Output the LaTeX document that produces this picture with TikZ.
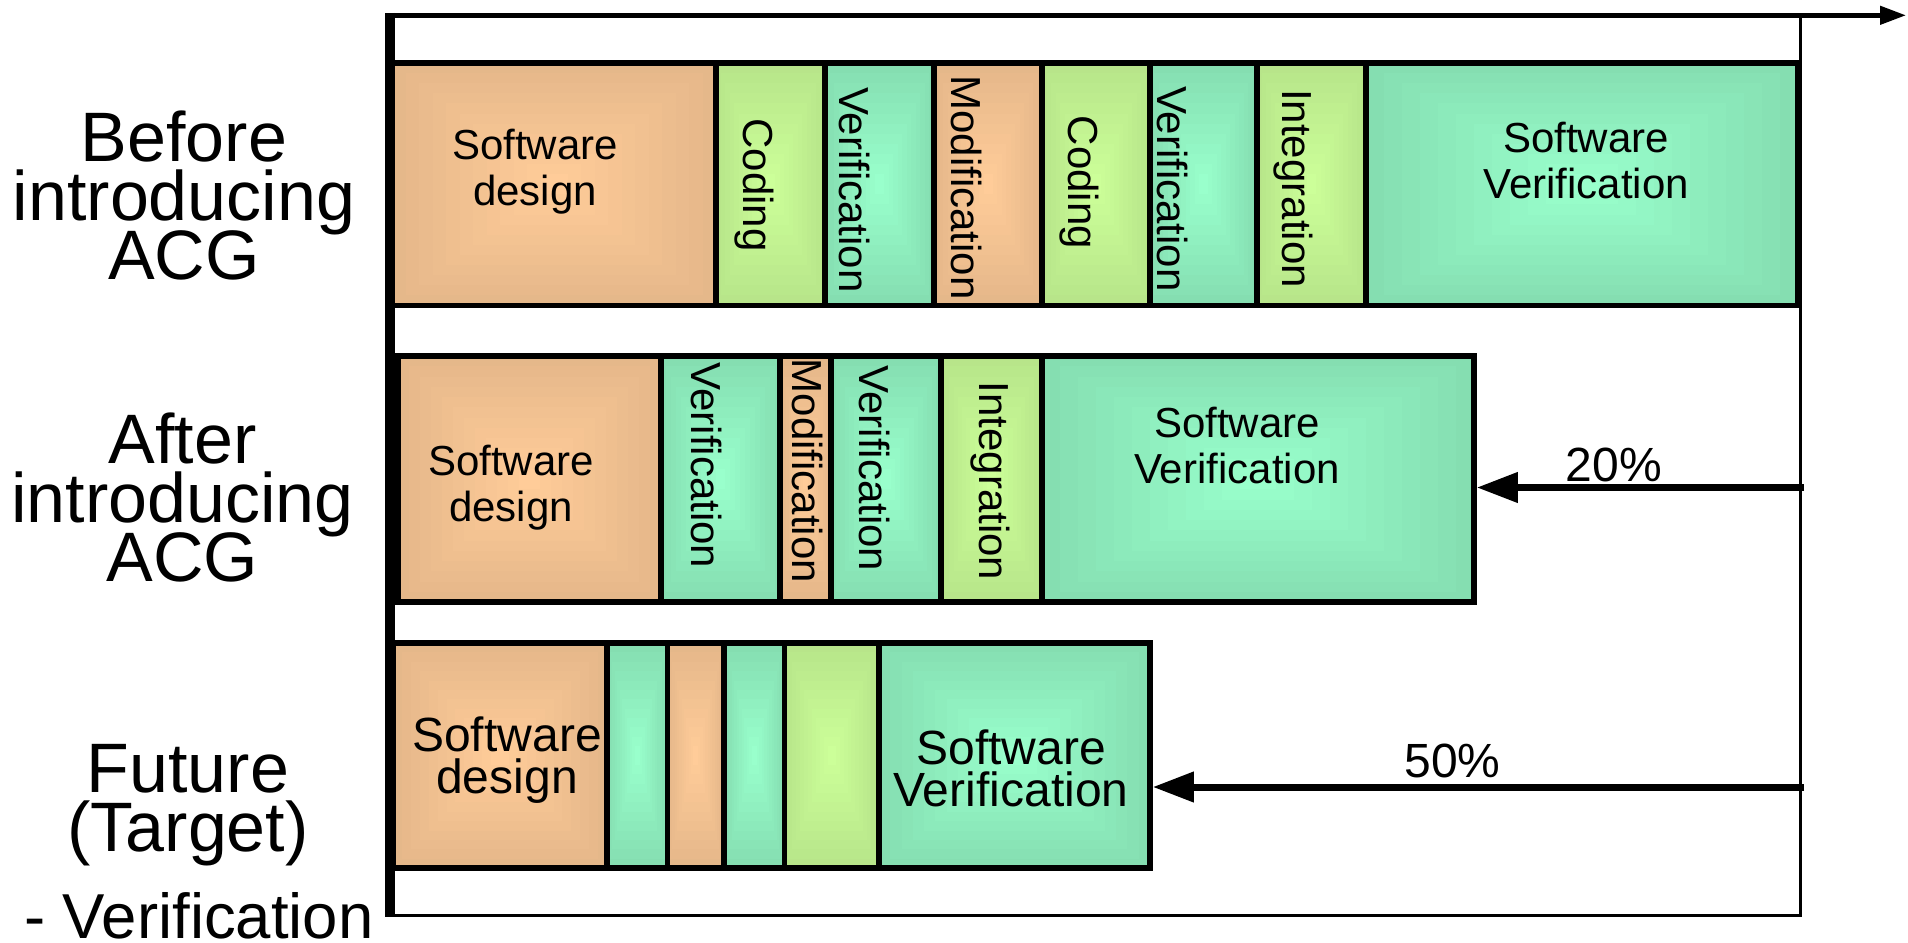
\documentclass[tikz,border=0pt]{standalone}
\usepackage{fontspec}
\setmainfont{Liberation Sans}
\usetikzlibrary{arrows.meta,calc,fit}
\definecolor{orIn}{HTML}{FFCC99}
\definecolor{grIn}{HTML}{CCFF99}
\definecolor{tlIn}{HTML}{99FFCC}
\colorlet{orOut}{orIn!90!black}
\colorlet{grOut}{grIn!90!black}
\colorlet{tlOut}{tlIn!87!black}
\lineskiplimit=-1000pt
\tikzset{
  seg/.style 2 args={draw=black, line width=5.5pt, inner sep=0pt,
    path picture={
      \foreach \k in {0,...,11}{
        \pgfmathtruncatemacro{\pc}{100*\k/11}
        \pgfmathsetmacro{\fr}{0.5*\k/12}
        \fill[#1!\pc!#2] ($(path picture bounding box.south west)!\fr!(path picture bounding box.north east)$) rectangle ($(path picture bounding box.north east)!\fr!(path picture bounding box.south west)$);
      }}},
  orseg/.style={seg={orIn}{orOut}},
  grseg/.style={seg={grIn}{grOut}},
  tlseg/.style={seg={tlIn}{tlOut}},
  lab/.style={font={\fontsize{70}{59}\selectfont\lineskiplimit=-1000pt}, align=center, inner sep=0pt},
  bt/.style={font={\fontsize{42}{46}\selectfont\lineskiplimit=-1000pt}, align=center, inner sep=0pt},
  btb/.style={font={\fontsize{48}{42}\selectfont\lineskiplimit=-1000pt}, align=center, inner sep=0pt},
  vt/.style={font=\fontsize{42}{46}\selectfont, rotate=-90, inner sep=0pt},
  pct/.style={font=\fontsize{48}{56}\selectfont, inner sep=0pt, anchor=base},
  thinln/.style={line width=2.5pt},
  pctarrow/.style={line width=7pt, -{Triangle[length=41pt,width=29pt]}},
}
\begin{document}
\begin{tikzpicture}[x=1pt,y=-1pt]
\useasboundingbox (0,0) rectangle (1908,942);
% frame
\coordinate (tr) at (1800.5,15);
\coordinate (br) at (1800.5,915.5);
\coordinate (bl) at (390,915.5);
\draw[thinln] (tr) -- (br) -- (bl);
% row 1
\node[orseg, fit={(392,63) (716,305.5)}] (s11) {};
\node[grseg, fit={(716,63) (825,305.5)}] (s12) {};
\node[tlseg, fit={(825,63) (934,305.5)}] (s13) {};
\node[orseg, fit={(934,63) (1042,305.5)}] (s14) {};
\node[grseg, fit={(1042,63) (1150,305.5)}] (s15) {};
\node[tlseg, fit={(1150,63) (1257,305.5)}] (s16) {};
\node[grseg, fit={(1257,63) (1366,305.5)}] (s17) {};
\node[tlseg, fit={(1366,63) (1798,305.5)}] (s18) {};
% row 2
\node[orseg, fit={(398,356) (661,602)}] (s21) {};
\node[tlseg, fit={(661,356) (780,602)}] (s22) {};
\node[orseg, fit={(780,356) (831,602)}] (s23) {};
\node[tlseg, fit={(831,356) (941,602)}] (s24) {};
\node[grseg, fit={(941,356) (1042,602)}] (s25) {};
\node[tlseg, fit={(1042,356) (1474,602)}] (s26) {};
% row 3
\node[orseg, fit={(393,643) (607,868)}] (s31) {};
\node[tlseg, fit={(607,643) (667.5,868)}] (s32) {};
\node[orseg, fit={(667.5,643) (724,868)}] (s33) {};
\node[tlseg, fit={(724,643) (784.5,868)}] (s34) {};
\node[grseg, fit={(784.5,643) (879,868)}] (s35) {};
\node[tlseg, fit={(879,643) (1150,868)}] (s36) {};
% axis
\coordinate (axT) at (390,13);
\coordinate (axB) at (390,917);
\draw[line width=10pt] (axT) -- (axB);
\coordinate (o) at (390,15.3);
\coordinate (tip) at (1906,15.3);
\draw[line width=4.5pt, -{Triangle[length=26pt,width=18pt]}] (o) -- (tip);
% percentage arrows
\coordinate (p20) at (1804,487.5);
\coordinate (p50) at (1804,787);
\draw[pctarrow] (p20) -- (p20 -| s26.east);
\draw[pctarrow] (p50) -- (p50 -| s36.east);
\node[pct] (l20) at (1614,481) {20\%};
\node[pct] (l50) at (1452.5,777) {50\%};
% left labels
\node[lab] (before) at (184,196) {Before\\introducing\\ACG};
\node[lab] (after) at (182.5,497.6) {After\\introducing\\ACG};
\node[lab] (future) at (188,805) {Future\\(Target)};
\node[font=\fontsize{63.5}{70}\selectfont, inner sep=0pt, anchor=base west] (futv) at (24,938) {- Verification};
% row texts
\node[bt] (t11) at (535,172) {Software\\design};
\node[vt] (t12) at (754,185) {Coding};
\node[vt] (t13) at (854,190) {Verification};
\node[vt] (t14) at (966,187.5) {Modification};
\node[vt] (t15) at (1079,182.5) {Coding};
\node[vt] (t16) at (1172,189) {Verification};
\node[vt] (t17) at (1293,188.5) {Integration};
\node[bt] (t18) at (1586,161) {Software\\Verification};
\node[bt] (t21) at (511,488) {Software\\design};
\node[vt] (t22) at (706.5,465.5) {Verification};
\node[vt] (t23) at (808,471) {Modification};
\node[vt] (t24) at (875,468.5) {Verification};
\node[vt] (t25) at (990.5,481) {Integration};
\node[bt] (t26) at (1237,446) {Software\\Verification};
\node[btb] (t31) at (507,760) {Software\\design};
\node[btb] (t36) at (1011,768) {Software\\Verification};
\end{tikzpicture}
\end{document}
